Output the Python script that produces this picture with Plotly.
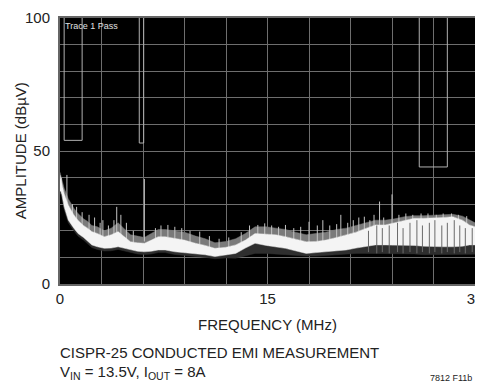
import plotly.graph_objects as go

# ---------------- data ----------------
freq_mhz = [0, 0.1, 0.3, 0.6, 1.0, 1.3, 1.7, 2.0, 2.3, 2.7, 3.2, 3.7, 4.2, 4.6, 5.1, 5.6, 6.1, 6.6,
            7.1, 7.6, 8.3, 9.0, 9.8, 10.5, 11.2, 12.0, 12.7, 13.4, 14.1, 14.9, 15.6, 16.3, 17.0, 17.8,
            18.5, 19.2, 20.0, 20.7, 21.4, 22.1, 22.8, 23.5, 24.2, 24.9, 25.6, 26.3, 27.0, 27.7, 28.4,
            29.1, 29.6, 30]
core_top = [41, 38.5, 34, 29.7, 26, 24, 22, 21, 19.7, 19, 17.8, 18.5, 19.7, 18, 15.9, 15.5, 15.3, 16.5,
            17.8, 17.8, 17.2, 16.5, 15.3, 14.5, 13.4, 13.8, 14.7, 16.5, 19, 18.8, 18.5, 17.8, 16.8, 15.9,
            16, 16.5, 17.5, 18.4, 19.5, 20.9, 22.2, 22.2, 23, 24, 24.7, 24.7, 24.8, 25, 25.3,
            24, 22.2, 21.5]
core_bottom = [35, 34.7, 29, 24, 21, 19, 17.5, 16, 14.7, 14, 13.4, 13.5, 14, 13.5, 12.8, 12.3, 12.1, 12.3,
               12.8, 12.8, 12.1, 11.8, 11.5, 11, 10.3, 10.8, 11.5, 13.5, 15.3, 14.5, 14, 13.4, 12.5, 11.5,
               11.8, 12.1, 12.5, 12.8, 13.5, 14, 14.7, 14.7, 14.7, 14.7, 14.5, 14.2, 14, 14, 14,
               14.2, 14.7, 14.7]
halo_top = [42, 40, 36, 32, 28.5, 26.5, 24.5, 23.5, 22, 21.5, 20, 21, 23, 21, 18.5, 18, 17.5, 19,
            20.5, 20.5, 20, 19.5, 18, 17, 15.5, 16, 17, 19, 21.5, 21.5, 21, 20.5, 19.5, 18.5,
            19, 19.5, 20.5, 21, 22, 23, 24, 24, 24.5, 25.3, 25.7, 25.7, 25.8, 26, 26.2,
            25.5, 24, 23]
floor_dbuv = [34, 33.5, 28, 23, 20, 18, 16.5, 15, 13.7, 13, 12.4, 12.5, 13, 12.5, 11.8, 11.3, 11.1, 11.3,
              11.8, 11.8, 11.1, 10.8, 10.5, 10, 9.5, 9.8, 9.7, 10.5, 11.5, 11.5, 11.2, 10.9, 10.8, 10.5,
              10.5, 10.8, 11, 11.2, 11.5, 11.5, 11.5, 11.5, 11.5, 11.5, 11.3, 11, 11, 11, 11,
              11, 11.2, 11.2]

spike_freq = [0.1, 0.5, 0.9, 1.2, 1.6, 2.1, 2.5, 2.9, 3.1, 3.5, 3.9, 4.1, 4.4, 4.8, 5.3, 6.1, 6.9, 7.3,
              7.8, 8.3, 8.8, 9.4, 10.1, 10.8, 11.5, 12.2, 13.1, 13.7, 14.3, 14.8, 15.3, 15.8, 16.3,
              16.9, 17.4, 18.0, 18.6, 19.0, 19.5, 20.0, 20.3, 20.8, 21.2, 21.6, 22.0, 22.4, 22.7,
              23.1, 23.4, 24.0, 24.5, 25.0, 25.5, 26.1, 26.6, 27.2, 27.7, 28.3, 28.8, 29.4]
spike_top = [40, 41, 30, 29, 27, 26, 25, 23, 24, 22, 24, 29, 26, 23, 20, 39.5, 21, 22,
             22.2, 21.5, 21, 20, 19.7, 18, 17, 17.5, 19.5, 22, 22.2, 22.8, 22, 21.5, 22.2,
             21, 21.5, 23.4, 22, 24, 22, 22.5, 26, 23, 24, 25, 25.3, 24, 26,
             31, 25, 33.7, 26, 26.5, 26, 26.5, 26.5, 26, 26.5, 26.5, 26, 25.5]
spike_base = [34, 30, 22, 21, 18, 17, 16, 15, 15, 15, 15, 16, 16, 15, 14, 16, 14, 15,
              15, 14, 14, 13, 13, 12, 11.5, 12, 14, 16, 16, 16, 16, 15, 15,
              14, 13, 13, 13, 14, 14, 15, 15, 16, 16, 17, 18, 19, 20,
              20, 20, 21, 21, 22, 22, 22, 22, 22, 22, 22, 22, 21]

dip_freq = [22.3, 22.9, 23.3, 23.8, 24.4, 24.8, 25.3, 25.8, 26.2, 26.7, 27.1, 27.6, 28.0, 28.5,
            28.9, 29.3, 29.8]
dip_top = [20, 22, 21, 22, 23, 21, 23, 24, 22, 23, 24, 22, 23, 24, 22, 21, 21]
dip_base = [12, 11.5, 12, 11.5, 12, 11.5, 12, 11.5, 12, 11.5, 12, 11.5, 12, 11.5, 12, 11.5, 12]

limit_start = [0.3, 5.73, 25.97]
limit_end = [1.6, 6.05, 28.0]
limit_level = [54, 53, 44]

x_tickvals = [0, 3, 6, 9, 12, 15, 18, 21, 24, 27, 30]
x_ticktext = ["0", "", "", "", "", "15", "", "", "", "", "30"]
y_tickvals = [0, 10, 20, 30, 40, 50, 60, 70, 80, 90, 100]
y_ticktext = ["0", "", "", "", "", "50", "", "", "", "", "100"]

FONT = "Liberation Sans, Arial, sans-serif"
TXT = "#222222"

fig = go.Figure()

def add_band(lo, hi, color, edge):
    fig.add_trace(go.Scatter(x=freq_mhz, y=lo, mode="lines", line=dict(color=edge, width=0.5),
                             showlegend=False, hoverinfo="skip"))
    fig.add_trace(go.Scatter(x=freq_mhz, y=hi, mode="lines", fill="tonexty", fillcolor=color,
                             line=dict(color=edge, width=0.5), showlegend=False, hoverinfo="skip"))

# dark gray floor below core, gray halo above core, white core
add_band(floor_dbuv, core_bottom, "#2e2e2e", "#2e2e2e")
add_band(core_top, halo_top, "#7a7a7a", "#7a7a7a")

# spikes (gray texture)
sx, sy = [], []
for f, t, b in zip(spike_freq, spike_top, spike_base):
    sx += [f, f, None]
    sy += [b, t, None]
fig.add_trace(go.Scatter(x=sx, y=sy, mode="lines", line=dict(color="#c4c4c4", width=1),
                         showlegend=False, hoverinfo="skip"))

add_band(core_bottom, core_top, "#f4f4f4", "#e8e8e8")

# darker dips through the core
dx, dy = [], []
for f, t, b in zip(dip_freq, dip_top, dip_base):
    dx += [f, f, None]
    dy += [b, t, None]
fig.add_trace(go.Scatter(x=dx, y=dy, mode="lines", line=dict(color="#6a6a6a", width=1),
                         showlegend=False, hoverinfo="skip"))

# limit lines
lx, ly = [], []
for s, e, lv in zip(limit_start, limit_end, limit_level):
    lx += [s, s, e, e, None]
    ly += [100, lv, lv, 100, None]
fig.add_trace(go.Scatter(x=lx, y=ly, mode="lines", line=dict(color="#b0b0b0", width=1),
                         showlegend=False, hoverinfo="skip"))

fig.update_xaxes(range=[0, 30], tickvals=x_tickvals, ticktext=x_ticktext, automargin=False,
                 showgrid=True, gridcolor="#6e6e6e", gridwidth=1, zeroline=False,
                 showline=True, linecolor="#666666", linewidth=2, mirror=True,
                 ticks="", ticklabeloverflow="allow",
                 tickfont=dict(family=FONT, size=15, color=TXT))
fig.update_yaxes(range=[0, 100], tickvals=y_tickvals, ticktext=y_ticktext, automargin=False,
                 showgrid=True, gridcolor="#6e6e6e", gridwidth=1, zeroline=False,
                 showline=True, linecolor="#666666", linewidth=2, mirror=True,
                 ticks="outside", ticklen=5, tickcolor="rgba(0,0,0,0)", ticklabeloverflow="allow",
                 tickfont=dict(family=FONT, size=15, color=TXT))

# page has an 8px body margin, so the figure is smaller and shifted to fit the window
fig.update_layout(
    width=475, height=374,
    margin=dict(l=52, r=8, t=10, b=98),
    plot_bgcolor="#000000", paper_bgcolor="#ffffff",
    font=dict(family=FONT, color=TXT),
)

fig.add_annotation(x=0, y=1, xref="paper", yref="paper", xanchor="left", yanchor="top",
                   xshift=3, yshift=-1, text="Trace 1 Pass", showarrow=False,
                   font=dict(family=FONT, size=9, color="#e0e0e0"))
fig.add_annotation(x=-0.096, y=0.5, xref="paper", yref="paper", xanchor="center", yanchor="middle",
                   text="AMPLITUDE (dBµV)", textangle=-90, showarrow=False,
                   font=dict(family=FONT, size=15, color=TXT))
fig.add_annotation(x=0.5, y=-0.154, xref="paper", yref="paper", xanchor="center", yanchor="middle",
                   text="FREQUENCY (MHz)", showarrow=False,
                   font=dict(family=FONT, size=15, color=TXT))
fig.add_annotation(x=0, y=-0.256, xref="paper", yref="paper", xanchor="left", yanchor="middle",
                   xshift=-2, text="CISPR-25 CONDUCTED EMI MEASUREMENT", showarrow=False,
                   font=dict(family=FONT, size=15, color=TXT))
fig.add_annotation(x=0, y=-0.331, xref="paper", yref="paper", xanchor="left", yanchor="middle",
                   xshift=-2, text="V<sub>IN</sub> = 13.5V, I<sub>OUT</sub> = 8A", showarrow=False,
                   font=dict(family=FONT, size=15, color=TXT))
fig.add_annotation(x=1.0, y=-0.353, xref="paper", yref="paper", xanchor="right", yanchor="middle",
                   xshift=-1, text="7812 F11b", showarrow=False,
                   font=dict(family=FONT, size=9, color=TXT))

fig.write_html("out.html")
